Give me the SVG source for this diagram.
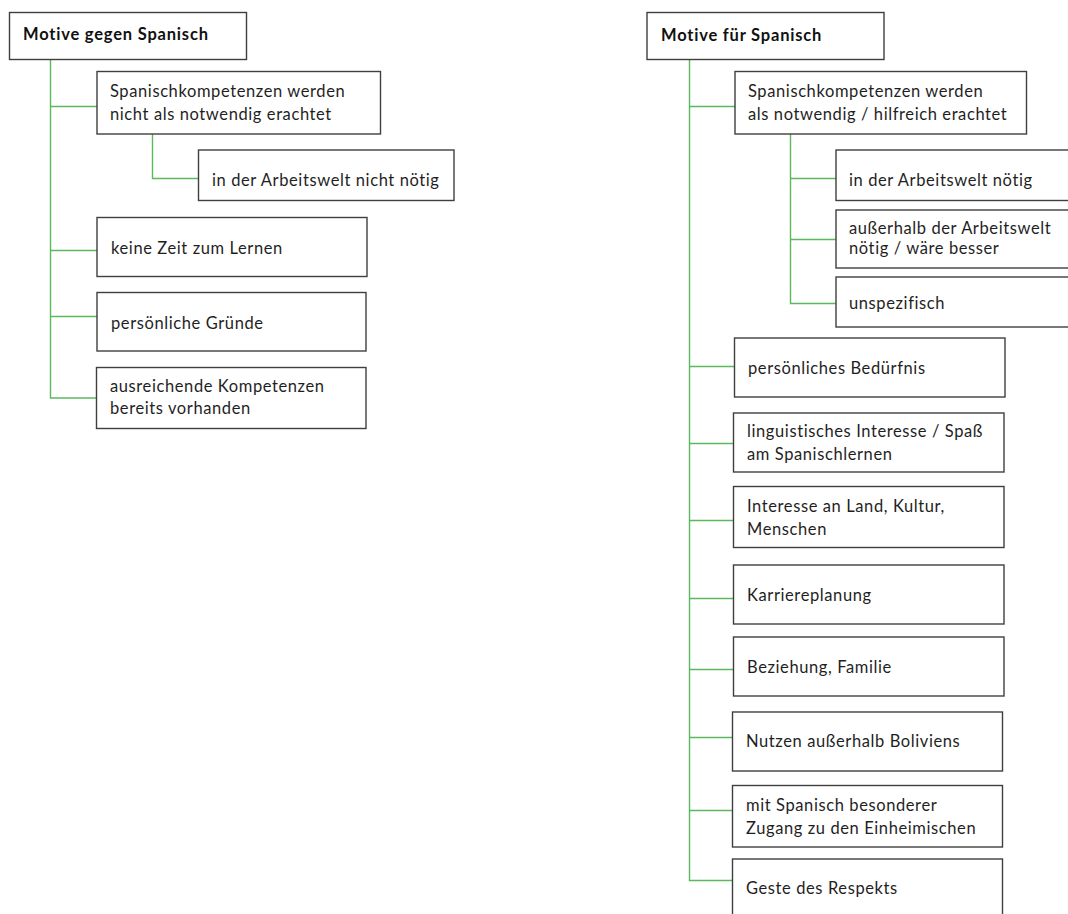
<svg xmlns="http://www.w3.org/2000/svg" width="1068" height="914" viewBox="0 0 1068 914">
  <style>
    .box { fill: #ffffff; stroke: #3f3f3f; stroke-width: 1.4; }
    .lbl { font-family: Lato, "Open Sans", "Liberation Sans", sans-serif; font-size: 16.5px; letter-spacing: 0.6px; fill: #1f1f1f; }
    .head { font-family: Lato, "Open Sans", "Liberation Sans", sans-serif; font-size: 16.5px; letter-spacing: 0.8px; font-weight: bold; fill: #111111; }
    .link { fill: none; stroke: #5cb85c; stroke-width: 1.4; }
  </style>
  <rect width="1068" height="914" fill="#ffffff"/>

  <!-- tree connectors -->
  <g id="connectors">
    <!-- left tree -->
    <polyline class="link" points="50.5,59 50.5,398 97,398"/>
    <line class="link" x1="50.5" y1="106.5" x2="97" y2="106.5"/>
    <line class="link" x1="50.5" y1="250.5" x2="97" y2="250.5"/>
    <line class="link" x1="50.5" y1="316.5" x2="97" y2="316.5"/>
    <polyline class="link" points="152.5,134 152.5,178.5 198,178.5"/>
    <!-- right tree -->
    <polyline class="link" points="689.5,59 689.5,880.5 732,880.5"/>
    <line class="link" x1="689.5" y1="106.5" x2="735" y2="106.5"/>
    <polyline class="link" points="790.5,134 790.5,303.5 836,303.5"/>
    <line class="link" x1="790.5" y1="178.5" x2="836" y2="178.5"/>
    <line class="link" x1="790.5" y1="239.5" x2="836" y2="239.5"/>
    <line class="link" x1="689.5" y1="366.5" x2="734" y2="366.5"/>
    <line class="link" x1="689.5" y1="443.5" x2="733" y2="443.5"/>
    <line class="link" x1="689.5" y1="520.5" x2="733" y2="520.5"/>
    <line class="link" x1="689.5" y1="598.5" x2="733" y2="598.5"/>
    <line class="link" x1="689.5" y1="669.5" x2="733" y2="669.5"/>
    <line class="link" x1="689.5" y1="737.5" x2="732" y2="737.5"/>
    <line class="link" x1="689.5" y1="810.5" x2="732" y2="810.5"/>
  </g>

  <!-- left side: Motive gegen Spanisch -->
  <g id="gegen-root">
    <rect class="box" x="9.5" y="12.5" width="237" height="47"/>
    <text class="head" x="23" y="40">Motive gegen Spanisch</text>
  </g>
  <g id="gegen-nicht-notwendig">
    <rect class="box" x="97" y="71.5" width="283.5" height="62.5"/>
    <text class="lbl" x="110" y="97">Spanischkompetenzen werden</text>
    <text class="lbl" x="110" y="120">nicht als notwendig erachtet</text>
  </g>
  <g id="gegen-arbeitswelt">
    <rect class="box" x="198.5" y="150" width="255.5" height="50.5"/>
    <text class="lbl" x="212" y="186">in der Arbeitswelt nicht nötig</text>
  </g>
  <g id="gegen-keine-zeit">
    <rect class="box" x="97" y="217.5" width="270" height="59"/>
    <text class="lbl" x="111" y="254">keine Zeit zum Lernen</text>
  </g>
  <g id="gegen-persoenlich">
    <rect class="box" x="97" y="292.5" width="269" height="58.5"/>
    <text class="lbl" x="111" y="329">persönliche Gründe</text>
  </g>
  <g id="gegen-ausreichend">
    <rect class="box" x="96.5" y="367.5" width="269.5" height="61"/>
    <text class="lbl" x="110" y="392">ausreichende Kompetenzen</text>
    <text class="lbl" x="110" y="414">bereits vorhanden</text>
  </g>

  <!-- right side: Motive für Spanisch -->
  <g id="fuer-root">
    <rect class="box" x="647" y="12.5" width="237" height="47"/>
    <text class="head" x="661" y="41">Motive für Spanisch</text>
  </g>
  <g id="fuer-notwendig">
    <rect class="box" x="735" y="71.5" width="291.5" height="62.5"/>
    <text class="lbl" x="748" y="97">Spanischkompetenzen werden</text>
    <text class="lbl" x="748" y="120">als notwendig / hilfreich erachtet</text>
  </g>
  <g id="fuer-arbeitswelt">
    <rect class="box" x="836" y="150" width="240" height="50.5"/>
    <text class="lbl" x="849" y="186">in der Arbeitswelt nötig</text>
  </g>
  <g id="fuer-ausserhalb-arbeitswelt">
    <rect class="box" x="836" y="210" width="240" height="58"/>
    <text class="lbl" x="849" y="234">außerhalb der Arbeitswelt</text>
    <text class="lbl" x="849" y="254">nötig / wäre besser</text>
  </g>
  <g id="fuer-unspezifisch">
    <rect class="box" x="836" y="277" width="240" height="50"/>
    <text class="lbl" x="849" y="309">unspezifisch</text>
  </g>
  <g id="fuer-beduerfnis">
    <rect class="box" x="734.5" y="338" width="270.5" height="59"/>
    <text class="lbl" x="748" y="374">persönliches Bedürfnis</text>
  </g>
  <g id="fuer-linguistisch">
    <rect class="box" x="733.5" y="413" width="270.5" height="59"/>
    <text class="lbl" x="747" y="437">linguistisches Interesse / Spaß</text>
    <text class="lbl" x="747" y="460">am Spanischlernen</text>
  </g>
  <g id="fuer-land-kultur">
    <rect class="box" x="733.5" y="486.5" width="270.5" height="61"/>
    <text class="lbl" x="747" y="512">Interesse an Land, Kultur,</text>
    <text class="lbl" x="747" y="535">Menschen</text>
  </g>
  <g id="fuer-karriere">
    <rect class="box" x="733.5" y="565" width="270.5" height="59"/>
    <text class="lbl" x="747" y="601">Karriereplanung</text>
  </g>
  <g id="fuer-beziehung">
    <rect class="box" x="733.5" y="637" width="270.5" height="59"/>
    <text class="lbl" x="747" y="673">Beziehung, Familie</text>
  </g>
  <g id="fuer-bolivien">
    <rect class="box" x="732.5" y="712" width="270" height="59"/>
    <text class="lbl" x="746" y="747">Nutzen außerhalb Boliviens</text>
  </g>
  <g id="fuer-einheimische">
    <rect class="box" x="732.5" y="785.5" width="270" height="61.5"/>
    <text class="lbl" x="746" y="811">mit Spanisch besonderer</text>
    <text class="lbl" x="746" y="834">Zugang zu den Einheimischen</text>
  </g>
  <g id="fuer-respekt">
    <rect class="box" x="732.5" y="859" width="270" height="70"/>
    <text class="lbl" x="746" y="894">Geste des Respekts</text>
  </g>
</svg>
